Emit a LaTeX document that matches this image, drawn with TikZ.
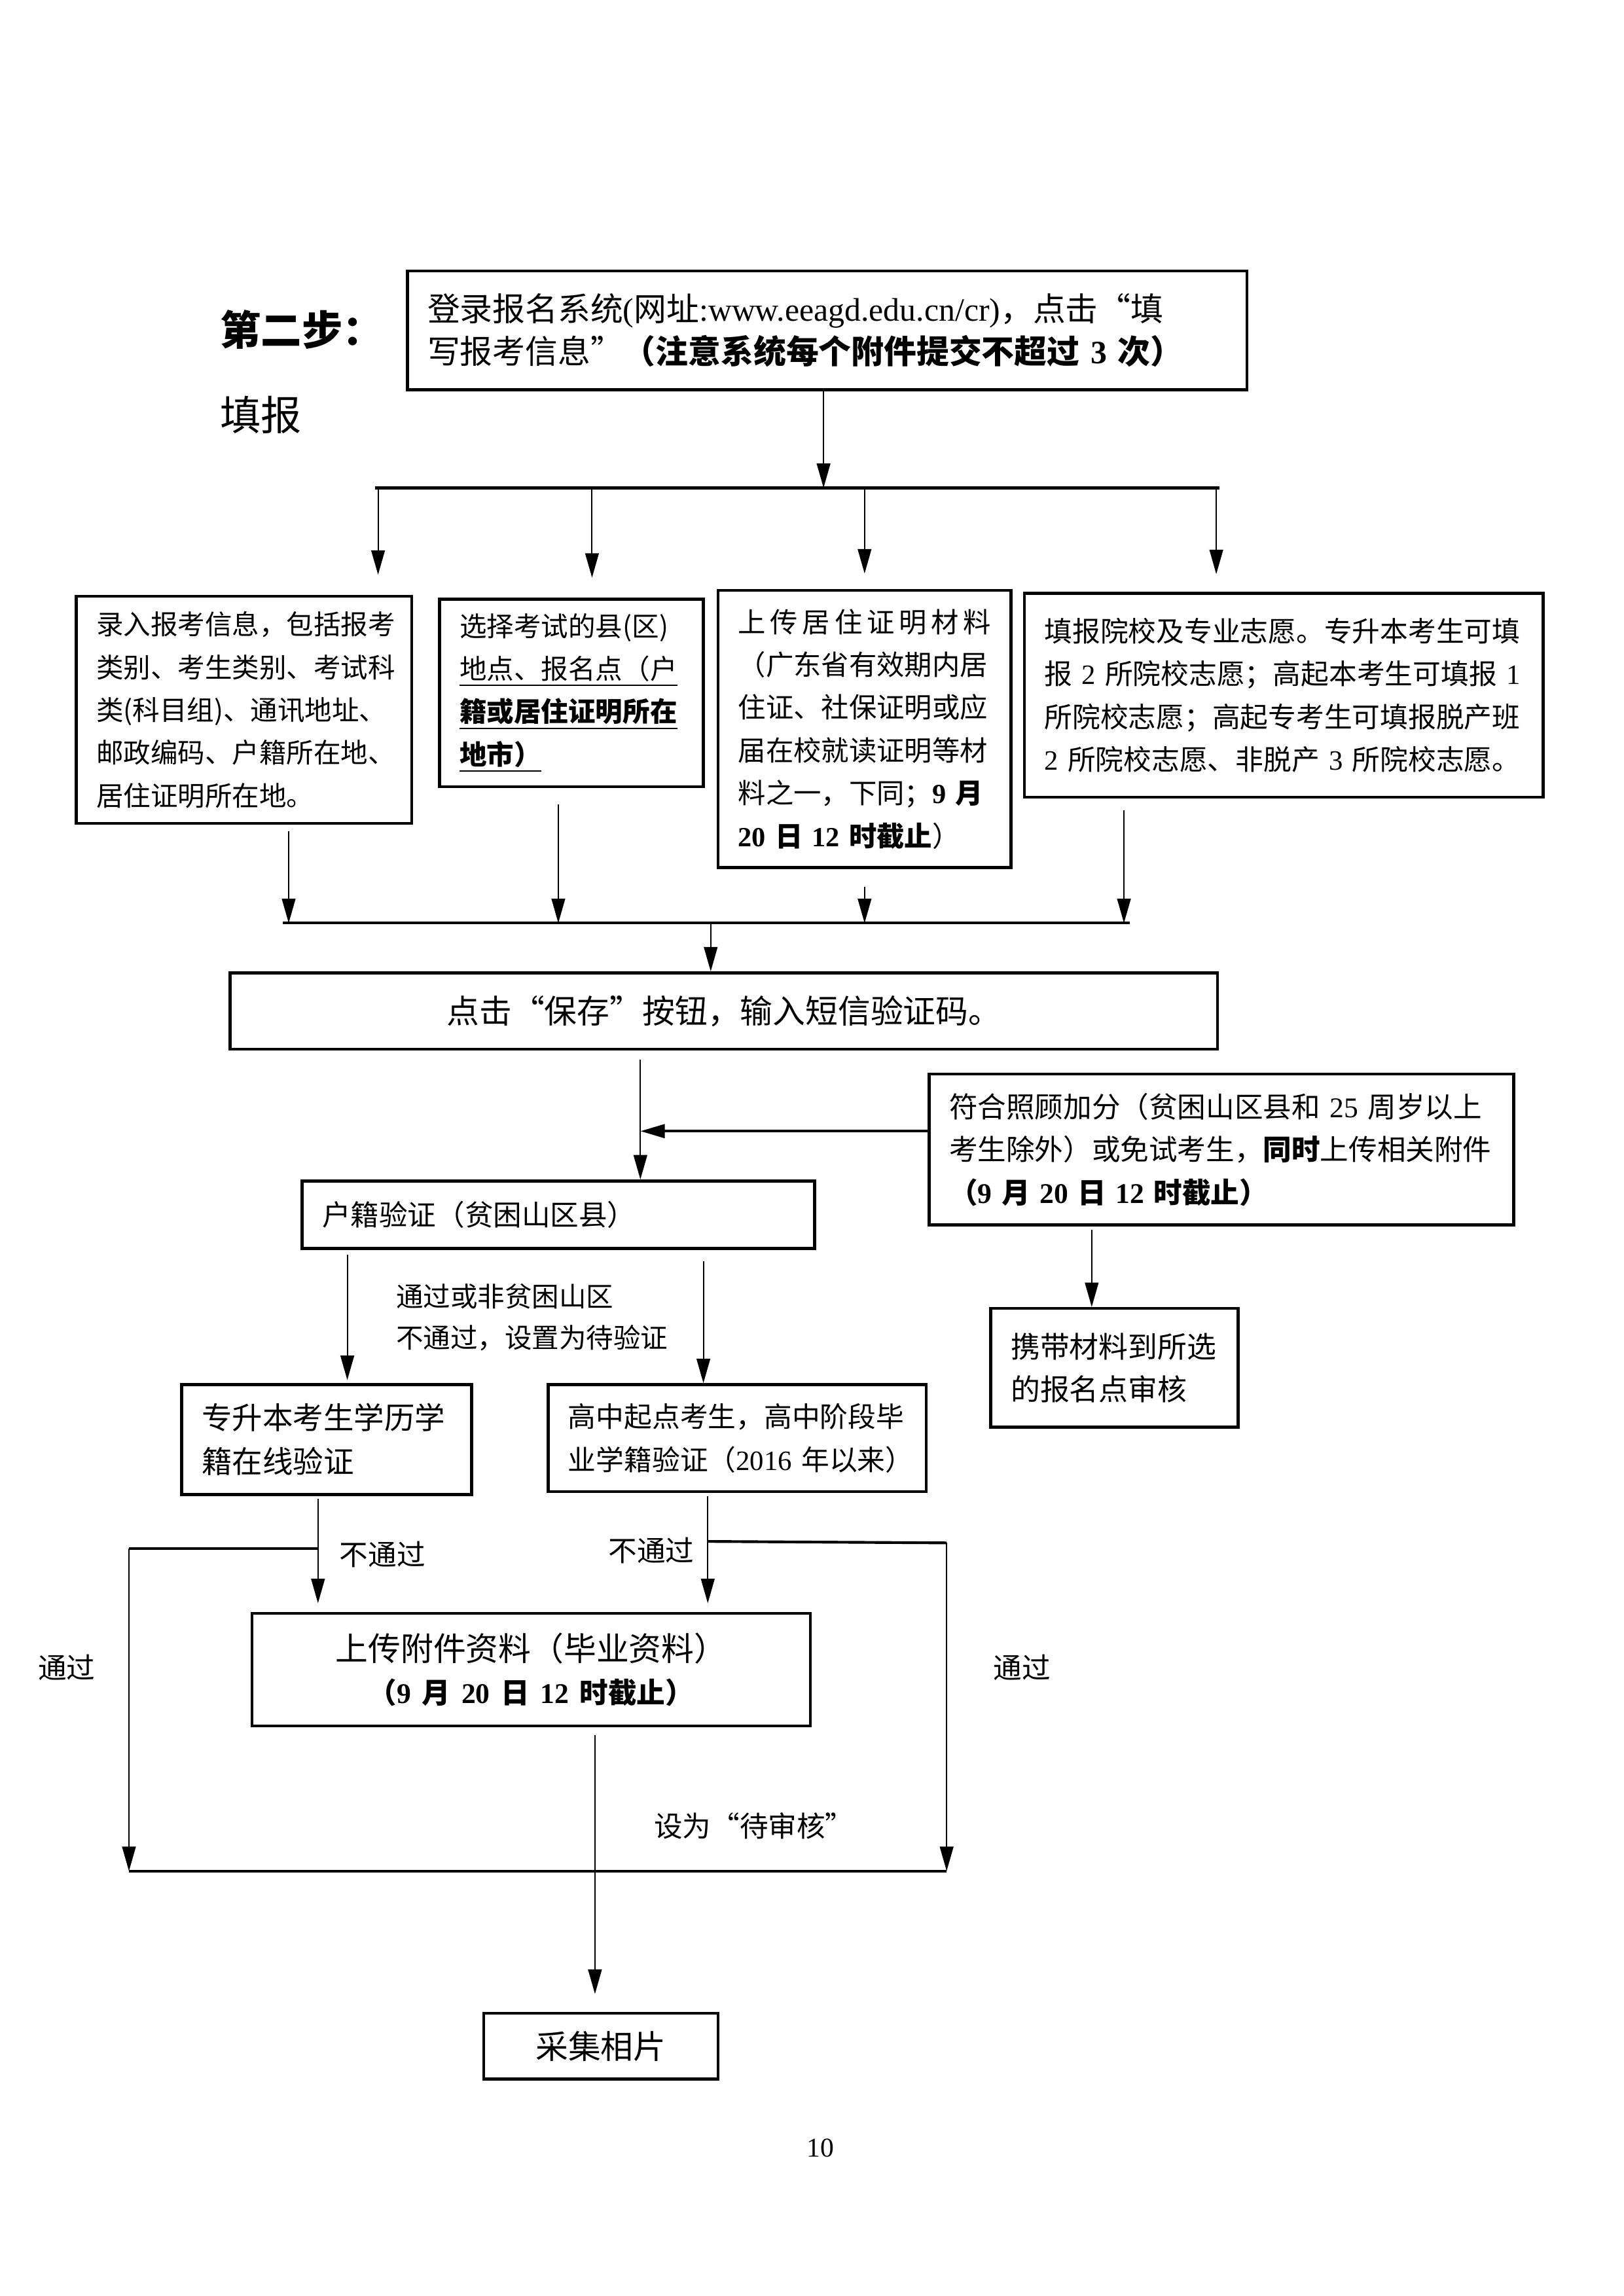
\documentclass[tikz,border=0pt]{standalone}
\usepackage{fontspec}
\setmainfont{Noto Sans CJK SC}
\newfontfamily\en{Liberation Serif}
\newcommand{\lat}[1]{{\en #1}}
\usetikzlibrary{arrows.meta,positioning}

\begin{document}
\begin{tikzpicture}[x=0.18953mm, y=-0.18953mm,
    box/.style={draw, rectangle, line width=1.1pt, inner xsep=0.26cm, inner ysep=1pt, align=left},
    arr/.style={line width=0.5pt, -{Triangle[length=9pt,width=5pt]}},
    bar/.style={line width=1pt},
    lbl/.style={inner sep=0pt, align=left, font=\fontsize{10.5}{15.25}\selectfont}]
    \useasboundingbox (0,0) rectangle (1108,1567);

    % titles
    \node (stepttl) [anchor=west, inner sep=0pt, font=\fontsize{15}{18}\selectfont\bfseries] at (150,225) {第二步：};
    \node (stepsub) [anchor=west, inner sep=0pt, font=\fontsize{15}{18}\selectfont] at (150,283) {填报};

    \node (login) [box, text width=10.34cm, minimum height=1.535cm, font=\fontsize{12}{15.75}\selectfont] at (564.5,225.5)
        {登录报名系统\lat{(}网址\lat{:www.eeagd.edu.cn/cr)}，点击“填\\写报考信息”\textbf{（注意系统每个附件提交不超过~\lat{3}~次）}};

    % first bar
    \coordinate (bw) at (256,333);
    \coordinate (be) at (832,333);
    \coordinate (t0) at (562,333);
    \draw[bar] (bw) -- (be);
    \draw[arr] (login.south -| t0) -- (t0);

    \node (info) [box, text width=3.82cm, minimum height=2.938cm, font=\fontsize{10}{15.75}\selectfont] at (166.5,484.5)
        {录入报考信息，包括报考\\类别、考生类别、考试科\\类(科目组)、通讯地址、\\邮政编码、户籍所在地、\\居住证明所在地。};
    \node (site) [box, text width=2.89cm, minimum height=2.426cm, font=\fontsize{10}{15.75}\selectfont] at (390,473)
        {选择考试的县(区)\\\underline{地点、报名点（户}\\\underline{\textbf{籍或居住证明所在}}\\\underline{\textbf{地市）}}};
    \node (resid) [box, text width=3.27cm, minimum height=3.582cm, font=\fontsize{10.2}{15.75}\selectfont] at (590,497.5)
        {\hbox to \linewidth{上\hfil 传\hfil 居\hfil 住\hfil 证\hfil 明\hfil 材\hfil 料}\\（广东省有效期内居\\住证、社保证明或应\\届在校就读证明等材\\料之一，下同；\textbf{\lat{9}~月}\\\textbf{\lat{20}~日~\lat{12}~时截止}）};
    \node (wish) [box, text width=6.19cm, minimum height=2.634cm, font=\fontsize{10.3}{15.75}\selectfont] at (876,474.5)
        {填报院校及专业志愿。专升本考生可填\\报~\lat{2}~所院校志愿；高起本考生可填报~\lat{1}\\所院校志愿；高起专考生可填报脱产班\\\lat{2}~所院校志愿、非脱产~\lat{3}~所院校志愿。};

    \coordinate (sA) at (258,333);
    \coordinate (sB) at (404,333);
    \coordinate (sC) at (590,333);
    \coordinate (sD) at (830,333);
    \draw[arr, shorten >=2.6mm] (sA) -- (sA |- info.north);
    \draw[arr, shorten >=2.6mm] (sB) -- (sB |- site.north);
    \draw[arr, shorten >=2.0mm] (sC) -- (sC |- resid.north);
    \draw[arr, shorten >=2.3mm] (sD) -- (sD |- wish.north);

    % second bar
    \coordinate (cw) at (193,630);
    \coordinate (ce) at (771,630);
    \coordinate (cA) at (197,630);
    \coordinate (cB) at (381,630);
    \coordinate (cC) at (590,630);
    \coordinate (cD) at (767,630);
    \coordinate (cM) at (485,630);
    \draw[bar] (cw) -- (ce);
    \draw[arr, shorten <=0.8mm] (info.south -| cA) -- (cA);
    \draw[arr, shorten <=2.1mm] (site.south -| cB) -- (cB);
    \draw[arr, shorten <=2.3mm] (resid.south -| cC) -- (cC);
    \draw[arr, shorten <=1.5mm] (wish.south -| cD) -- (cD);

    \node (save) [box, align=center, text width=12.25cm, minimum height=0.986cm, font=\fontsize{12}{15.75}\selectfont] at (494,690)
        {点击“保存”按钮，输入短信验证码。};
    \draw[arr] (cM) -- (cM |- save.north);

    \node (hukou) [box, text width=6.11cm, minimum height=0.872cm, font=\fontsize{10.5}{15.75}\selectfont] at (381,829)
        {户籍验证（贫困山区县）};
    \node (bonus) [box, text width=7.04cm, minimum height=1.952cm, font=\fontsize{10.5}{15.75}\selectfont] at (833.5,784.5)
        {符合照顾加分（贫困山区县和~\lat{25}~周岁以上\\考生除外）或免试考生，\textbf{同时}上传相关附件\\\textbf{（\lat{9}~月~\lat{20}~日~\lat{12}~时截止）}};
    \node (carry) [box, text width=2.68cm, minimum height=1.535cm, font=\fontsize{10.8}{15.75}\selectfont] at (760.5,933.5)
        {携带材料到所选\\的报名点审核};

    \coordinate (jn) at (437,772);
    \coordinate (kx) at (745,860);
    \draw[arr, shorten <=1.2mm] (save.south -| jn) -- (jn |- hukou.north);
    \draw[arr, line width=1pt] (bonus.west |- jn) -- (jn);
    \draw[arr, shorten <=0.4mm] (bonus.south -| kx) -- (kx |- carry.north);

    \node (zsb) [box, text width=3.23cm, minimum height=1.421cm, font=\fontsize{11.2}{16.2}\selectfont] at (223,982.5)
        {专升本考生学历学\\籍在线验证};
    \node (gzxj) [box, text width=4.37cm, minimum height=1.384cm, font=\fontsize{10.3}{15.75}\selectfont] at (503,981.5)
        {高中起点考生，高中阶段毕\\业学籍验证（\lat{2016}~年以来）};

    \coordinate (ka) at (237,900);
    \coordinate (kb) at (480,900);
    \draw[arr, shorten <=0.6mm, shorten >=0.4mm] (hukou.south -| ka) -- (ka |- zsb.north);
    \draw[arr, shorten <=1.5mm] (hukou.south -| kb) -- (kb |- gzxj.north);
    \node (passlbl) [lbl, anchor=west, font=\fontsize{10}{15.25}\selectfont] at (270,899)
        {通过或非贫困山区\\不通过，设置为待验证};

    \node (upload) [box, align=center, text width=6.70cm, minimum height=1.459cm, font=\fontsize{12}{15.75}\selectfont] at (362.5,1139.5)
        {上传附件资料（毕业资料）\\{\fontsize{10.5}{15.75}\selectfont\bfseries（\lat{9}~月~\lat{20}~日~\lat{12}~时截止）}};

    % branches to the last bar
    \coordinate (la) at (217,1057);
    \coordinate (lw) at (88,1057);
    \coordinate (lb) at (483,1052);
    \coordinate (le) at (646,1053);
    \coordinate (ba) at (88,1277);
    \coordinate (bb) at (646,1277);
    \draw[arr, shorten <=0.4mm, shorten >=1.1mm] (zsb.south -| la) -- (la |- upload.north);
    \draw[arr, shorten <=0.4mm, shorten >=1.1mm] (gzxj.south -| lb) -- (lb |- upload.north);
    \draw[bar] (la) -- (lw);
    \draw[bar] (lb) -- (le);
    \draw[arr] (lw) -- (ba);
    \draw[arr] (le) -- (bb);
    \draw[bar] (ba) -- (bb);

    \node (nopassa) [lbl] at (261,1061) {不通过};
    \node (nopassb) [lbl] at (444.5,1058) {不通过};
    \node (passa) [lbl] at (45.5,1138) {通过};
    \node (passb) [lbl] at (697.5,1138) {通过};

    \node (photo) [box, align=center, text width=2.51cm, minimum height=0.853cm, font=\fontsize{12}{15.75}\selectfont] at (410,1396.5)
        {采集相片};
    \coordinate (pc) at (406,1250);
    \draw[arr, shorten <=1mm, shorten >=2.3mm] (upload.south -| pc) -- (pc |- photo.north);
    \node (pending) [lbl, anchor=west] at (446,1246) {设为“待审核”};

    \node (pageno) [inner sep=0pt, font=\fontsize{10}{12}\selectfont] at (560,1466) {\lat{10}};
\end{tikzpicture}
\end{document}
